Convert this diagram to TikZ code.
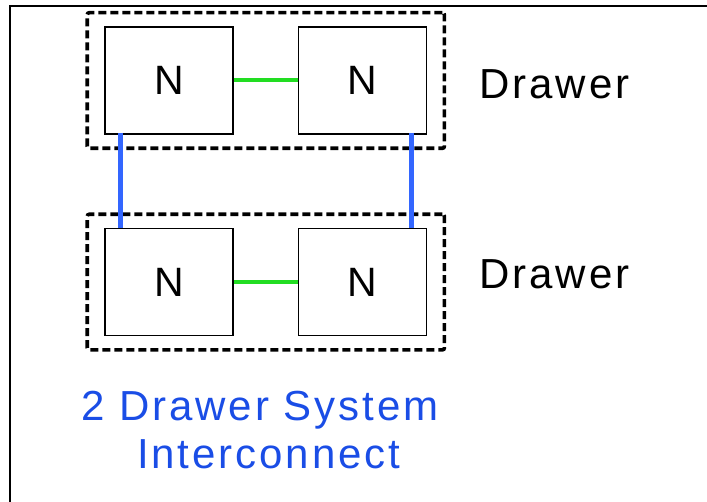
\documentclass[tikz,border=0pt]{standalone}
\usepackage{fontspec}
\setmainfont{Liberation Sans}
\newfontfamily\spaced[LetterSpace=7]{Liberation Sans}
\usetikzlibrary{positioning,fit}
\definecolor{linkblue}{RGB}{51,102,255}
\definecolor{linkgreen}{RGB}{34,221,34}
\definecolor{capblue}{RGB}{26,77,230}
\tikzstyle{nodebox}=[rectangle,draw,line width=1.6pt,minimum width=128pt,minimum height=107pt,inner sep=0pt,font=\fontsize{41}{48}\selectfont]
\tikzstyle{drawer}=[rectangle,draw,line width=3.6pt,dash pattern=on 8pt off 4pt,rounded corners=2pt,inner xsep=17pt,inner ysep=13.5pt]
\tikzstyle{lbl}=[inner sep=0pt,font=\fontsize{42}{48}\selectfont\spaced]
\tikzstyle{vlink}=[linkblue,line width=4.8pt]
\tikzstyle{hlink}=[linkgreen,line width=4pt]

\begin{document}
\begin{tikzpicture}[x=1pt,y=-1pt,node distance=93pt and 64pt]
\useasboundingbox (0,0) rectangle (707,502);
\draw[line width=2pt] (9.5,502) -- (9.5,6) -- (707,6);
\node[nodebox] (n11) at (169,80.5) {N};
\node[nodebox, right=of n11] (n12) {N};
\node[nodebox, below=of n11] (n21) {N};
\node[nodebox, right=of n21] (n22) {N};
\node[drawer, fit=(n11)(n12)] (d1) {};
\node[drawer, fit=(n21)(n22)] (d2) {};
\node[lbl, anchor=west] (l1) at ([xshift=33pt,yshift=-4pt]d1.east) {Drawer};
\node[lbl, anchor=west] (l2) at ([xshift=33pt,yshift=7.5pt]d2.east) {Drawer};
\node[lbl, text=capblue, align=center, anchor=north, below=39pt of d2, xshift=-6pt] (cap) {2 Drawer System\\\hspace*{18pt}Interconnect};
\draw[hlink] (n11) -- (n12);
\draw[hlink] (n21) -- (n22);
\draw[vlink] ([xshift=16pt,yshift=2pt]n11.south west) -- ([xshift=16pt]n21.north west);
\draw[vlink] ([xshift=-16pt,yshift=2pt]n12.south east) -- ([xshift=-16pt]n22.north east);
\end{tikzpicture}
\end{document}
